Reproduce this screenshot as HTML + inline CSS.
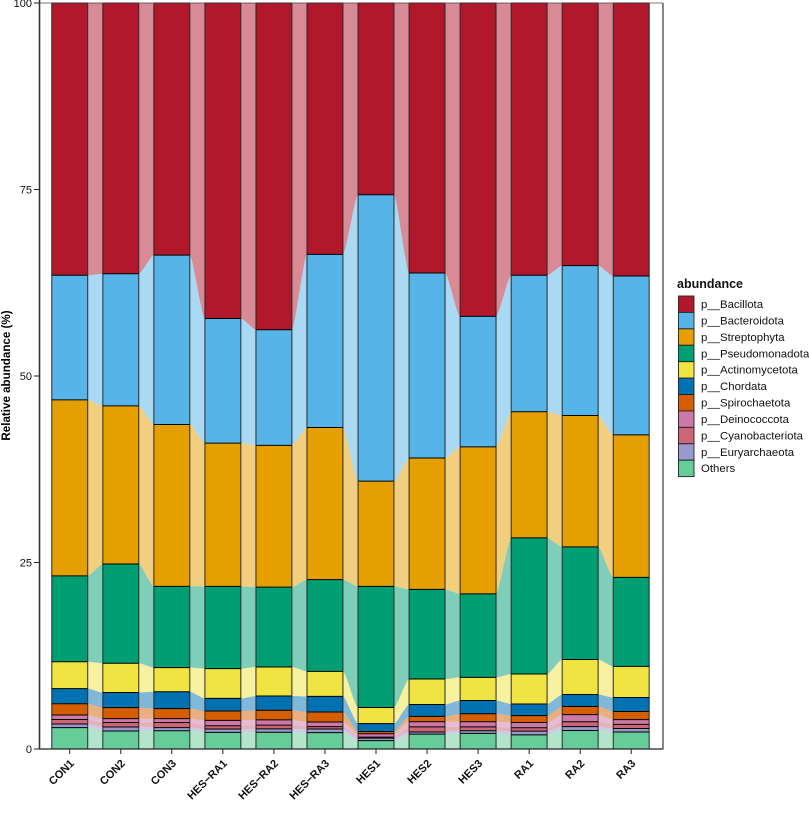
<!DOCTYPE html>
<html>
<head>
<meta charset="utf-8">
<title>Relative abundance</title>
<style>
html,body{margin:0;padding:0;background:#fff;width:809px;height:813px;overflow:hidden}
svg{display:block;font-family:"Liberation Sans",Arial,sans-serif}
</style>
</head>
<body>
<svg id="chart" xmlns="http://www.w3.org/2000/svg" width="809" height="813" viewBox="0 0 809 813"></svg>
<script>
const samples = ["CON1","CON2","CON3","HES\u2212RA1","HES\u2212RA2","HES\u2212RA3","HES1","HES2","HES3","RA1","RA2","RA3"];
const taxa = ["p__Bacillota","p__Bacteroidota","p__Streptophyta","p__Pseudomonadota","p__Actinomycetota","p__Chordata","p__Spirochaetota","p__Deinococcota","p__Cyanobacteriota","p__Euryarchaeota","Others"];
const colors = ["#B2182B","#56B4E9","#E69F00","#009E73","#F0E442","#0072B2","#D55E00","#CC79A7","#CC6677","#9999CC","#66CC99"];
const bacillota = [36.5,36.3,33.8,42.3,43.8,33.7,25.7,36.2,42,36.5,35.2,36.6];
const bacteroidota = [16.7,17.7,22.7,16.7,15.5,23.2,38.4,24.8,17.5,18.3,20.1,21.3];
const streptophyta = [23.6,21.2,21.7,19.2,19.0,20.4,14.1,17.6,19.7,16.9,17.6,19.1];
const pseudomonadota = [11.5,13.3,10.9,11.03,10.7,12.3,16.24,12.02,11.2,18.25,15.1,11.93];
const actinomycetota = [3.6,3.93,3.23,3.99,3.9,3.35,2.16,3.41,3.1,4.02,4.7,4.17];
const chordata = [2.03,2.03,2.25,1.69,1.9,2.09,1.05,1.6,1.77,1.56,1.6,1.87];
const spirochaetota = [1.51,1.47,1.35,1.25,1.3,1.34,0.3,0.71,1.07,0.92,1.1,1.1];
const deinococcota = [0.61,0.52,0.52,0.72,0.7,0.62,0.45,0.7,0.7,0.7,0.94,0.63];
const cyanobacteriota = [0.6,0.6,0.68,0.44,0.5,0.32,0.15,0.68,0.51,0.45,0.66,0.55];
const euryarchaeota = [0.49,0.54,0.42,0.45,0.45,0.48,0.33,0.28,0.35,0.5,0.52,0.47];
const others = [2.86,2.41,2.45,2.23,2.25,2.2,1.12,2.0,2.1,1.9,2.48,2.28];
const yTicks = [0,25,50,75,100];

const seriesValues = [bacillota,bacteroidota,streptophyta,pseudomonadota,actinomycetota,chordata,spirochaetota,deinococcota,cyanobacteriota,euryarchaeota,others];
const NS = "http://www.w3.org/2000/svg";
const svg = document.getElementById("chart");
const PL = 39.5, PR = 663, PT = 3, PB = 749;
const STEP = 51.05, X0 = 69.7, BARW = 35.9;
function xScale(i){ return X0 + STEP * i; }
function yScale(v){ return PB - (PB - PT) * v / 100; }
function mk(tag, attrs, parent){
  const e = document.createElementNS(NS, tag);
  for (const k in attrs) e.setAttribute(k, attrs[k]);
  (parent || svg).appendChild(e);
  return e;
}

// stack from the bottom: last taxon sits on the axis
const lower = seriesValues.map(() => []);
const upper = seriesValues.map(() => []);
samples.forEach((s, i) => {
  let c = 0;
  for (let t = seriesValues.length - 1; t >= 0; t--) {
    lower[t][i] = c;
    c += seriesValues[t][i];
    upper[t][i] = c;
  }
});

// flows
const flowLayer = mk("g", {});


for (let t = seriesValues.length - 1; t >= 0; t--) {
  for (let i = 0; i < samples.length - 1; i++) {
    const x0 = xScale(i) + BARW / 2, x1 = xScale(i + 1) - BARW / 2;
    const c0 = x0 + (x1 - x0) * 0.2, c1 = x1 - (x1 - x0) * 0.2;
    const a0 = yScale(upper[t][i]), a1 = yScale(upper[t][i + 1]);
    const b0 = yScale(lower[t][i]), b1 = yScale(lower[t][i + 1]);
    const d = `M${x0} ${a0}C${c0} ${a0} ${c1} ${a1} ${x1} ${a1}L${x1} ${b1}C${c1} ${b1} ${c0} ${b0} ${x0} ${b0}Z`;
    const flow = mk("path", {d: d, fill: colors[t], "fill-opacity": 0.5, stroke: "none"}, flowLayer);
    
    
  }
}

// bars
const barLayer = mk("g", {});


for (let t = seriesValues.length - 1; t >= 0; t--) {
  samples.forEach((s, i) => {
    const top = yScale(upper[t][i]), bottom = yScale(lower[t][i]);
    const left = xScale(i) - BARW / 2, right = xScale(i) + BARW / 2;
    const bar = mk("rect", {x: left, y: top, width: BARW, height: bottom - top, fill: colors[t]}, barLayer);
    
    
    const leftEdge = mk("line", {x1: left, x2: left, y1: top, y2: bottom, stroke: "#222", "stroke-opacity": 0.8, "stroke-width": 1.2}, barLayer);
    
    
    const rightEdge = mk("line", {x1: right, x2: right, y1: top, y2: bottom, stroke: "#222", "stroke-opacity": 0.8, "stroke-width": 1.2}, barLayer);
    
    
  });
}
for (let t = seriesValues.length - 1; t >= 0; t--) {
  samples.forEach((s, i) => {
    const left = xScale(i) - BARW / 2, right = xScale(i) + BARW / 2;
    const edge = mk("line", {x1: left, x2: right, y1: yScale(upper[t][i]), y2: yScale(upper[t][i]), stroke: "#000", "stroke-width": 1}, barLayer);
    
    
  });
}

// axes
const leftLine = mk("line", {x1: PL, x2: PL, y1: 0, y2: PB + 0.5, stroke: "#333", "stroke-width": 1.6});


const rightLine = mk("line", {x1: PR, x2: PR, y1: 3, y2: PB + 0.5, stroke: "#555", "stroke-width": 1.4});


const topLine = mk("line", {x1: PL, x2: PR, y1: PT, y2: PT, stroke: "#444", "stroke-width": 0.8});


const bottomLine = mk("line", {x1: PL, x2: PR, y1: PB, y2: PB, stroke: "#222", "stroke-width": 1.2});



yTicks.forEach(v => {
  const tick = mk("line", {x1: 34, x2: PL, y1: yScale(v), y2: yScale(v), stroke: "#222", "stroke-width": 1});
  
  
  const label = mk("text", {x: 32, y: yScale(v) + 3.8, "text-anchor": "end", "font-size": 11, fill: "#111"});
  label.textContent = String(v);
  
  
});

samples.forEach((s, i) => {
  const tx = xScale(i);
  const tick = mk("line", {x1: tx, x2: tx, y1: PB, y2: PB + 5, stroke: "#222", "stroke-width": 1});
  
  
  const lx = tx + 5, ly = 764;
  const label = mk("text", {x: lx, y: ly, "text-anchor": "end", "font-size": 11, "font-weight": "bold", fill: "#111", transform: `rotate(-45 ${lx} ${ly})`});
  label.textContent = s;
  
  
});

const yTitle = mk("text", {x: 10, y: 375.5, "text-anchor": "middle", "font-size": 11.6, "font-weight": "bold", fill: "#000", transform: "rotate(-90 10 375.5)"});
yTitle.textContent = "Relative abundance (%)";



// legend
const legendTitle = mk("text", {x: 677, y: 288, "font-size": 12.5, "font-weight": "bold", fill: "#111"});
legendTitle.textContent = "abundance";


const LEG_Y = 296, LEG_STEP = 16.42;
taxa.forEach((name, t) => {
  const ky = LEG_Y + LEG_STEP * t;
  const key = mk("rect", {x: 678.5, y: ky, width: 15.5, height: LEG_STEP, fill: colors[t], stroke: "#222", "stroke-width": 0.9});
  
  
  const label = mk("text", {x: 701, y: ky + 12, "font-size": 11.4, fill: "#111"});
  label.textContent = name;
  
  
});
</script>
</body>
</html>
